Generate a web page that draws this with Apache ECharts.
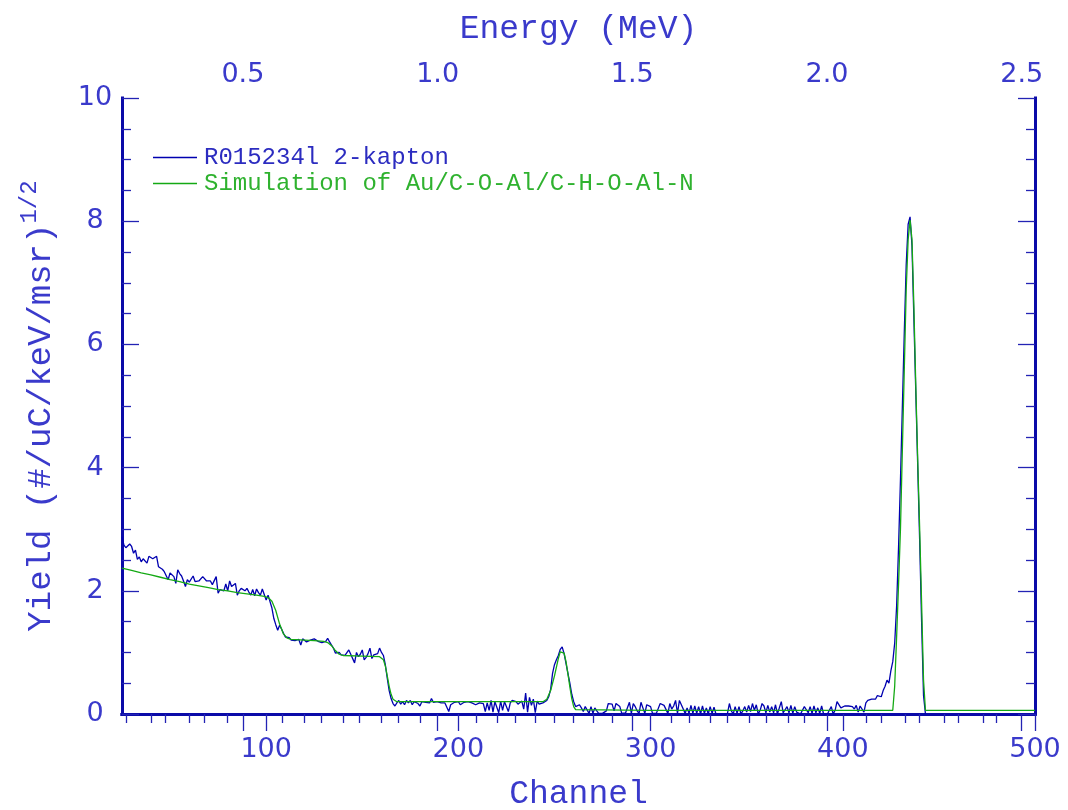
<!DOCTYPE html>
<html>
<head>
<meta charset="utf-8">
<title>R015234l 2-kapton RBS spectrum</title>
<script src="https://cdn.jsdelivr.net/npm/echarts@6.0.0/dist/echarts.min.js"></script>
<style>
  html, body { margin: 0; padding: 0; background: #ffffff; }
  #chart { width: 1068px; height: 810px; }
</style>
</head>
<body>
<div id="chart"></div>
<script>
// Measured spectrum: one yield value per channel, starting at channelStart
const channelStart = 25;
const measuredYield = [
  2.88, 2.74, 2.70, 2.69, 2.76, 2.72, 2.61, 2.66, 2.51, 2.55,   // 25-34
  2.47, 2.52, 2.55, 2.45, 2.56, 2.58, 2.52, 2.50, 2.56, 2.39,   // 35-44
  2.37, 2.35, 2.31, 2.34, 2.18, 2.29, 2.26, 2.23, 2.12, 2.34,   // 45-54
  2.28, 2.24, 2.16, 2.07, 2.18, 2.14, 2.12, 2.24, 2.15, 2.18,   // 55-64
  2.16, 2.15, 2.23, 2.20, 2.16, 2.15, 2.16, 2.10, 2.07, 2.23,   // 65-74
  1.96, 2.02, 2.04, 2.00, 2.11, 2.00, 2.16, 2.07, 2.09, 2.12,   // 75-84
  1.93, 2.00, 2.04, 2.07, 2.00, 2.04, 1.98, 1.93, 2.02, 1.92,   // 85-94
  2.03, 1.97, 1.93, 2.03, 2.01, 1.85, 1.93, 1.90, 1.72, 1.55,   // 95-104
  1.45, 1.36, 1.44, 1.38, 1.31, 1.25, 1.28, 1.24, 1.20, 1.22,   // 105-114
  1.19, 1.21, 1.21, 1.12, 1.22, 1.20, 1.17, 1.15, 1.20, 1.17,   // 115-124
  1.22, 1.19, 1.18, 1.20, 1.16, 1.15, 1.18, 1.23, 1.17, 1.12,   // 125-134
  1.07, 0.99, 1.02, 1.00, 0.96, 0.99, 0.95, 0.93, 1.04, 0.97,   // 135-144
  0.94, 0.83, 1.00, 0.93, 0.97, 1.04, 0.88, 0.92, 0.98, 1.07,   // 145-154
  0.90, 0.96, 0.93, 0.98, 1.07, 1.00, 0.95, 0.80, 0.58, 0.38,   // 155-164
  0.25, 0.17, 0.13, 0.18, 0.22, 0.16, 0.20, 0.15, 0.22, 0.18,   // 165-174
  0.22, 0.15, 0.20, 0.22, 0.17, 0.13, 0.20, 0.22, 0.19, 0.20,   // 175-184
  0.18, 0.25, 0.19, 0.17, 0.20, 0.19, 0.18, 0.19, 0.18, 0.17,   // 185-194
  0.04, 0.15, 0.17, 0.19, 0.18, 0.20, 0.15, 0.17, 0.19, 0.18,   // 195-204
  0.20, 0.21, 0.18, 0.16, 0.15, 0.16, 0.18, 0.20, 0.17, 0.04,   // 205-214
  0.18, 0.06, 0.22, 0.03, 0.20, 0.18, 0.02, 0.21, 0.06, 0.20,   // 215-224
  0.21, 0.04, 0.18, 0.22, 0.21, 0.20, 0.16, 0.18, 0.21, 0.08,   // 225-234
  0.34, 0.03, 0.27, 0.14, 0.24, 0.02, 0.21, 0.16, 0.19, 0.18,   // 235-244
  0.20, 0.22, 0.28, 0.40, 0.66, 0.80, 0.88, 0.95, 1.05, 1.09,   // 245-254
  0.98, 0.82, 0.66, 0.50, 0.32, 0.20, 0.12, 0.14, 0.15, 0.10,   // 255-264
  0.04, 0.12, 0.10, 0.01, 0.12, 0.01, 0.10, 0.05, 0.01, 0.00,   // 265-274
  0.01, 0.02, 0.05, 0.17, 0.19, 0.16, 0.05, 0.17, 0.14, 0.12,   // 275-284
  0.01, 0.00, 0.02, 0.05, 0.19, 0.01, 0.17, 0.12, 0.05, 0.01,   // 285-294
  0.19, 0.10, 0.01, 0.15, 0.14, 0.12, 0.01, 0.00, 0.01, 0.00,   // 295-304
  0.17, 0.19, 0.14, 0.12, 0.01, 0.17, 0.08, 0.13, 0.22, 0.01,   // 305-314
  0.22, 0.15, 0.12, 0.01, 0.10, 0.01, 0.14, 0.01, 0.13, 0.01,   // 315-324
  0.12, 0.00, 0.13, 0.01, 0.10, 0.00, 0.12, 0.01, 0.11, 0.00,   // 325-334
  0.00, 0.00, 0.00, 0.00, 0.00, 0.01, 0.17, 0.05, 0.00, 0.12,   // 335-344
  0.01, 0.12, 0.00, 0.05, 0.12, 0.03, 0.14, 0.04, 0.17, 0.06,   // 345-354
  0.15, 0.00, 0.06, 0.17, 0.13, 0.02, 0.14, 0.03, 0.12, 0.02,   // 355-364
  0.15, 0.00, 0.00, 0.20, 0.02, 0.00, 0.12, 0.02, 0.14, 0.01,   // 365-374
  0.12, 0.03, 0.00, 0.00, 0.01, 0.12, 0.10, 0.02, 0.12, 0.01,   // 375-384
  0.13, 0.02, 0.10, 0.01, 0.13, 0.00, 0.00, 0.00, 0.01, 0.12,   // 385-394
  0.00, 0.06, 0.20, 0.17, 0.10, 0.11, 0.13, 0.12, 0.13, 0.15,   // 395-404
  0.12, 0.08, 0.14, 0.03, 0.13, 0.15, 0.03, 0.18, 0.22, 0.20,   // 405-414
  0.24, 0.26, 0.24, 0.30, 0.31, 0.28, 0.38, 0.45, 0.55, 0.50,   // 415-424
  0.70, 0.85, 1.15, 1.75, 2.70, 3.80, 5.00, 6.20, 7.30, 7.95,   // 425-434
  8.07, 7.60, 6.40, 5.20, 4.00, 2.80, 1.50, 0.30, 0.00          // 435-443
];

// Simulated spectrum, sampled at these channels
const simChannel = [
  25, 30, 35, 40, 45, 50, 55, 60, 65, 70,
  75, 80, 85, 90, 95, 99, 101, 103, 105, 107,
  109, 111, 113, 120, 125, 130, 132, 134, 136, 138,
  140, 150, 159, 161, 162, 163, 164, 165, 166, 167,
  168, 200, 230, 244, 246, 248, 250, 252, 253, 254,
  255, 256, 257, 258, 259, 260, 261, 262, 300, 350,
  400, 426, 427, 428, 429, 430, 431, 432, 433, 434,
  435, 436, 437, 438, 439, 440, 441, 442, 443, 470,
  500
];
const simYield = [
  2.37, 2.33, 2.29, 2.26, 2.22, 2.18, 2.15, 2.11, 2.08, 2.05,
  2.02, 2.00, 1.97, 1.95, 1.93, 1.91, 1.89, 1.83, 1.68, 1.46,
  1.30, 1.23, 1.21, 1.20, 1.19, 1.18, 1.16, 1.11, 1.03, 0.97,
  0.95, 0.94, 0.93, 0.88, 0.78, 0.62, 0.45, 0.32, 0.24, 0.21,
  0.20, 0.20, 0.20, 0.20, 0.24, 0.38, 0.62, 0.90, 1.01, 1.04,
  0.99, 0.85, 0.65, 0.44, 0.25, 0.12, 0.07, 0.06, 0.06, 0.06,
  0.06, 0.06, 0.45, 1.25, 2.10, 3.00, 4.30, 5.60, 6.90, 7.70,
  8.02, 7.70, 6.60, 5.30, 4.10, 3.00, 1.80, 0.55, 0.06, 0.06,
  0.06
];

// Axis ranges and tick positions
const channelMin = 25;
const channelMax = 500;
const channelMajorTicks = [100, 200, 300, 400, 500];
const channelMinorTicks = [40, 60, 80, 120, 140, 160, 180, 220, 240, 260, 280,
                           320, 340, 360, 380, 420, 440, 460, 480];

// Energy calibration: E(MeV) = energyOffset + energyGain * channel
const energyOffset = 0.0661;
const energyGain = 0.004936;
const energyMajorTicks = [0.5, 1.0, 1.5, 2.0, 2.5];
const energyMinorTicks = [0.2, 0.3, 0.4, 0.6, 0.7, 0.8, 0.9, 1.1, 1.2, 1.3, 1.4,
                          1.6, 1.7, 1.8, 1.9, 2.1, 2.2, 2.3, 2.4];

const yieldMin = 0;
const yieldMax = 10;
const yieldMajorTicks = [0, 2, 4, 6, 8, 10];
const yieldMinorTicks = [0.5, 1, 1.5, 2.5, 3, 3.5, 4.5, 5, 5.5, 6.5, 7, 7.5, 8.5, 9, 9.5];

const measuredName = 'R015234l 2-kapton';
const simName = 'Simulation of Au/C-O-Al/C-H-O-Al-N';

// Colours and fonts
const frameColor = '#0a0aa8';
const tickColor = '#2323b4';
const textColor = '#3a3acb';
const dataBlue = '#0000b0';
const simGreen = '#14a914';
const labelFont = 'DejaVu Sans';
const titleFont = 'Liberation Mono';

const measuredPoints = measuredYield.map((v, i) => [channelStart + i, v]);
const simPoints = simChannel.map((c, i) => [c, simYield[i]]);

function frameAxisLine() {
  return { show: true, lineStyle: { color: frameColor, width: 3, cap: 'square' } };
}
function tickStyle(values, length, inside) {
  return { show: true, customValues: values, length: length, inside: inside,
           lineStyle: { color: tickColor, width: 1.3 } };
}
const hiddenLabel = { show: false };

const chart = echarts.init(document.getElementById('chart'), null, { renderer: 'canvas' });

chart.setOption({
  animation: false,
  backgroundColor: '#ffffff',
  grid: { left: 122, right: 33, top: 98, bottom: 96, containLabel: false, outerBoundsMode: 'none' },
  legend: {
    left: 148,
    top: 140,
    padding: 5,
    orient: 'vertical',
    icon: 'rect',
    itemWidth: 44,
    itemHeight: 1.4,
    itemGap: 1,
    selectedMode: false,
    textStyle: { fontFamily: titleFont, fontSize: 24, lineHeight: 25, padding: [0, 0, 0, 2] },
    data: [
      { name: measuredName, textStyle: { color: '#2c2cc0' } },
      { name: simName, textStyle: { color: '#2fb22f' } }
    ]
  },
  xAxis: [
    {
      // Channel axis with labels and major ticks
      type: 'value', position: 'bottom', min: channelMin, max: channelMax,
      axisLine: frameAxisLine(),
      axisTick: tickStyle(channelMajorTicks, 17, false),
      axisLabel: { show: true, customValues: channelMajorTicks, margin: 22,
                   color: textColor, fontFamily: labelFont, fontSize: 27 },
      splitLine: { show: false },
      name: 'Channel', nameLocation: 'middle', nameGap: 64,
      nameTextStyle: { color: textColor, fontFamily: titleFont, fontSize: 33 }
    },
    {
      // Channel minor ticks
      type: 'value', position: 'bottom', min: channelMin, max: channelMax,
      axisLine: { show: false },
      axisTick: tickStyle(channelMinorTicks, 9, false),
      axisLabel: hiddenLabel, splitLine: { show: false }
    },
    {
      // Energy axis on top
      type: 'value', position: 'top',
      min: energyOffset + energyGain * channelMin,
      max: energyOffset + energyGain * channelMax,
      axisLine: frameAxisLine(),
      axisTick: tickStyle(energyMajorTicks, 17, true),
      axisLabel: { show: true, customValues: energyMajorTicks, margin: 10,
                   color: textColor, fontFamily: labelFont, fontSize: 27,
                   formatter: v => v.toFixed(1) },
      splitLine: { show: false },
      name: 'Energy (MeV)', nameLocation: 'middle', nameGap: 52,
      nameTextStyle: { color: textColor, fontFamily: titleFont, fontSize: 33 }
    },
    {
      // Energy minor ticks
      type: 'value', position: 'top',
      min: energyOffset + energyGain * channelMin,
      max: energyOffset + energyGain * channelMax,
      axisLine: { show: false },
      axisTick: tickStyle(energyMinorTicks, 9, true),
      axisLabel: hiddenLabel, splitLine: { show: false }
    }
  ],
  yAxis: [
    {
      type: 'value', position: 'left', min: yieldMin, max: yieldMax,
      axisLine: frameAxisLine(),
      axisTick: tickStyle(yieldMajorTicks, 17, true),
      axisLabel: { show: true, customValues: yieldMajorTicks, margin: 27, align: 'center',
                   color: textColor, fontFamily: labelFont, fontSize: 27 },
      splitLine: { show: false },
      name: '{m|Yield (#/uC/keV/msr)}{s|1/2}',
      nameLocation: 'middle', nameGap: 64, nameRotate: 90,
      nameTextStyle: {
        color: textColor, fontFamily: titleFont,
        rich: {
          m: { fontFamily: titleFont, fontSize: 34, lineHeight: 40, verticalAlign: 'bottom', color: textColor },
          s: { fontFamily: titleFont, fontSize: 24, lineHeight: 24, verticalAlign: 'top', color: textColor }
        }
      }
    },
    {
      type: 'value', position: 'left', min: yieldMin, max: yieldMax,
      axisLine: { show: false },
      axisTick: tickStyle(yieldMinorTicks, 9, true),
      axisLabel: hiddenLabel, splitLine: { show: false }
    },
    {
      type: 'value', position: 'right', min: yieldMin, max: yieldMax,
      axisLine: frameAxisLine(),
      axisTick: tickStyle(yieldMajorTicks, 17, true),
      axisLabel: hiddenLabel, splitLine: { show: false }
    },
    {
      type: 'value', position: 'right', min: yieldMin, max: yieldMax,
      axisLine: { show: false },
      axisTick: tickStyle(yieldMinorTicks, 9, true),
      axisLabel: hiddenLabel, splitLine: { show: false }
    }
  ],
  series: [
    {
      name: measuredName, type: 'line', xAxisIndex: 0, yAxisIndex: 0,
      data: measuredPoints, symbol: 'none', smooth: false,
      itemStyle: { color: dataBlue },
      lineStyle: { color: dataBlue, width: 1.3 }
    },
    {
      name: simName, type: 'line', xAxisIndex: 0, yAxisIndex: 0,
      data: simPoints, symbol: 'none', smooth: false,
      itemStyle: { color: simGreen },
      lineStyle: { color: simGreen, width: 1.3 }
    }
  ]
});
</script>
</body>
</html>
